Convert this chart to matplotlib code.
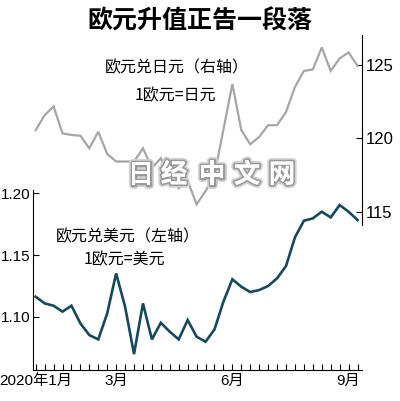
import matplotlib
matplotlib.use("Agg")
import matplotlib.pyplot as plt
import matplotlib.patheffects as pe
import numpy as np

# weekly data, 2020 Jan - Sep
eur_usd = [1.1162, 1.1108, 1.1089, 1.1041, 1.1089, 1.0946, 1.0851, 1.0816,
           1.1027, 1.1351, 1.1081, 1.0697, 1.1108, 1.0816, 1.0951, 1.0878,
           1.0816, 1.0973, 1.0838, 1.0797, 1.0897, 1.1122, 1.1303, 1.1243,
           1.1200, 1.1216, 1.1249, 1.1311, 1.1411, 1.1643, 1.1778, 1.1797,
           1.1851, 1.1805, 1.1905, 1.1851, 1.1784]
eur_jpy = [120.56, 121.58, 122.18, 120.34, 120.23, 120.18, 119.32, 120.45,
           118.94, 118.42, 118.42, 118.42, 119.32, 117.97, 118.65, 117.3,
           116.6, 117.1, 115.5, 116.4, 117.5, 120.6, 123.7, 120.56,
           119.6, 120.1, 120.9, 120.9, 121.8, 123.5, 124.6, 124.7,
           126.2, 124.6, 125.45, 125.86, 124.95]
month_pos = [0, 9, 22, 35]
month_labels = ["2020年1月", "3月", "6月", "9月"]
usd_ticks = [1.10, 1.15, 1.20]
jpy_ticks = [115, 120, 125]

CJK = ["Noto Sans CJK SC", "DejaVu Sans"]
NUM = ["Liberation Sans", "Noto Sans CJK SC", "DejaVu Sans"]
plt.rcParams["font.family"] = CJK

W, H = 400, 401
fig = plt.figure(figsize=(W / 100, H / 100), dpi=100)


def box(x0, y0, x1, y1):
    return [x0 / W, 1 - y1 / H, (x1 - x0) / W, (y1 - y0) / H]


x = np.arange(len(eur_usd))

# lower axes: EUR/USD (left axis)
ax1 = fig.add_axes(box(33, 190, 362, 370))
ax1.plot(x, eur_usd, color="#17495a", lw=1.9, solid_joinstyle="miter")
ax1.set_xlim(-0.3, 36.5)
ax1.set_ylim(1.0568, 1.2027)
for s in ["top", "right"]:
    ax1.spines[s].set_visible(False)
ax1.spines["left"].set_linewidth(0.8)
ax1.spines["bottom"].set_linewidth(0.8)
ax1.set_yticks(usd_ticks)
ax1.set_yticklabels([f"{v:.2f}" for v in usd_ticks], family=NUM, fontsize=11)
ax1.tick_params(axis="y", direction="in", length=4, width=0.8, pad=2)
ax1.set_xticks(x, minor=True)
ax1.set_xticks(month_pos)
ax1.set_xticklabels(month_labels, family=NUM, fontsize=11)
ax1.tick_params(axis="x", which="both", direction="in", length=4, width=0.8, pad=3)
ax1.patch.set_alpha(0)

# upper axes: EUR/JPY (right axis)
ax2 = fig.add_axes(box(33, 35, 362, 225))
ax2.plot(x, eur_jpy, color="#a6a6a6", lw=1.6, solid_joinstyle="miter")
ax2.set_xlim(-0.3, 36.5)
ax2.set_ylim(114.09, 127.05)
for s in ["top", "left", "bottom"]:
    ax2.spines[s].set_visible(False)
ax2.spines["right"].set_linewidth(0.8)
ax2.set_xticks([])
ax2.yaxis.tick_right()
ax2.set_yticks(jpy_ticks)
ax2.set_yticklabels([str(v) for v in jpy_ticks], family=NUM, fontsize=12)
ax2.tick_params(axis="y", direction="in", length=4, width=0.8, pad=3)
ax2.patch.set_alpha(0)

fig.text(200 / W, 1 - 22 / H, "欧元升值正告一段落", ha="center", va="center",
         fontsize=18, fontweight="bold")
fig.text(177 / W, 1 - 68 / H, "欧元兑日元（右轴）", ha="center", va="center", fontsize=11.5)
fig.text(175 / W, 1 - 96 / H, "1欧元=日元", ha="center", va="center", fontsize=11.5)
fig.text(128 / W, 1 - 237 / H, "欧元兑美元（左轴）", ha="center", va="center", fontsize=11.5)
fig.text(124 / W, 1 - 260 / H, "1欧元=美元", ha="center", va="center", fontsize=11.5)

# watermark
for ch, cx in zip("日经中文网", [141, 174, 212, 247, 282]):
    fig.text(cx / W, 1 - 175 / H, ch, ha="center", va="center", fontsize=19,
             fontweight="heavy", color="white", zorder=10,
             path_effects=[pe.withStroke(linewidth=5, foreground="#d2d2d2"),
                           pe.withStroke(linewidth=2.5, foreground="#9a9a9a"),
                           pe.Normal()])

fig.savefig("out.png", dpi=100)
